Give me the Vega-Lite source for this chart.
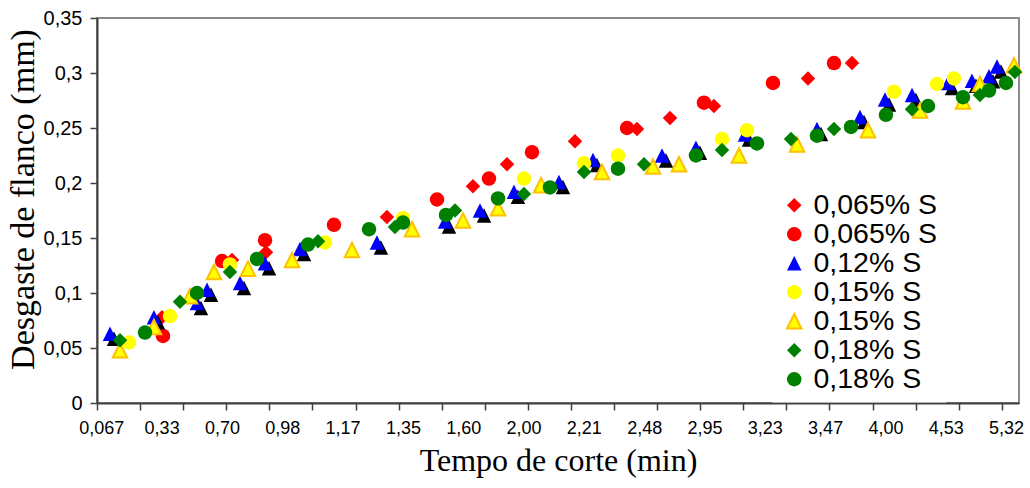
{
  "$schema": "https://vega.github.io/schema/vega-lite/v6.json",
  "width": 922,
  "height": 385,
  "autosize": {"type": "none"},
  "padding": {"left": 97, "top": 18, "right": 11, "bottom": 85},
  "background": "white",
  "config": {
    "view": {"stroke": "#8c8c8c", "strokeWidth": 2},
    "font": "Liberation Sans"
  },
  "data": {
    "values": [
      {"serie": "0,065% S (1)", "pos": 7.54, "desgaste": 0.078},
      {"serie": "0,065% S (1)", "pos": 15.67, "desgaste": 0.130},
      {"serie": "0,065% S (1)", "pos": 19.61, "desgaste": 0.137},
      {"serie": "0,065% S (1)", "pos": 33.65, "desgaste": 0.169},
      {"serie": "0,065% S (1)", "pos": 43.63, "desgaste": 0.197},
      {"serie": "0,065% S (1)", "pos": 47.58, "desgaste": 0.217},
      {"serie": "0,065% S (1)", "pos": 55.47, "desgaste": 0.238},
      {"serie": "0,065% S (1)", "pos": 62.67, "desgaste": 0.249},
      {"serie": "0,065% S (1)", "pos": 66.50, "desgaste": 0.259},
      {"serie": "0,065% S (1)", "pos": 71.60, "desgaste": 0.270},
      {"serie": "0,065% S (1)", "pos": 82.51, "desgaste": 0.295},
      {"serie": "0,065% S (1)", "pos": 87.62, "desgaste": 0.309},
      {"serie": "0,065% S (2)", "pos": 7.66, "desgaste": 0.061},
      {"serie": "0,065% S (2)", "pos": 14.51, "desgaste": 0.129},
      {"serie": "0,065% S (2)", "pos": 19.50, "desgaste": 0.148},
      {"serie": "0,065% S (2)", "pos": 27.50, "desgaste": 0.162},
      {"serie": "0,065% S (2)", "pos": 39.46, "desgaste": 0.185},
      {"serie": "0,065% S (2)", "pos": 45.49, "desgaste": 0.204},
      {"serie": "0,065% S (2)", "pos": 50.48, "desgaste": 0.228},
      {"serie": "0,065% S (2)", "pos": 61.51, "desgaste": 0.250},
      {"serie": "0,065% S (2)", "pos": 70.44, "desgaste": 0.273},
      {"serie": "0,065% S (2)", "pos": 78.45, "desgaste": 0.291},
      {"serie": "0,065% S (2)", "pos": 85.53, "desgaste": 0.309},
      {"serie": "0,12% S", "pos": 1.51, "desgaste": 0.063},
      {"serie": "0,12% S", "pos": 6.61, "desgaste": 0.078},
      {"serie": "0,12% S", "pos": 11.60, "desgaste": 0.091},
      {"serie": "0,12% S", "pos": 12.77, "desgaste": 0.103},
      {"serie": "0,12% S", "pos": 16.60, "desgaste": 0.109},
      {"serie": "0,12% S", "pos": 19.50, "desgaste": 0.127},
      {"serie": "0,12% S", "pos": 23.56, "desgaste": 0.140},
      {"serie": "0,12% S", "pos": 32.49, "desgaste": 0.146},
      {"serie": "0,12% S", "pos": 40.39, "desgaste": 0.165},
      {"serie": "0,12% S", "pos": 44.45, "desgaste": 0.175},
      {"serie": "0,12% S", "pos": 48.39, "desgaste": 0.192},
      {"serie": "0,12% S", "pos": 53.61, "desgaste": 0.201},
      {"serie": "0,12% S", "pos": 57.56, "desgaste": 0.221},
      {"serie": "0,12% S", "pos": 65.57, "desgaste": 0.225},
      {"serie": "0,12% S", "pos": 69.51, "desgaste": 0.232},
      {"serie": "0,12% S", "pos": 75.20, "desgaste": 0.244},
      {"serie": "0,12% S", "pos": 83.56, "desgaste": 0.249},
      {"serie": "0,12% S", "pos": 88.55, "desgaste": 0.260},
      {"serie": "0,12% S", "pos": 91.45, "desgaste": 0.276},
      {"serie": "0,12% S", "pos": 94.58, "desgaste": 0.280},
      {"serie": "0,12% S", "pos": 98.76, "desgaste": 0.291},
      {"serie": "0,12% S", "pos": 101.54, "desgaste": 0.293},
      {"serie": "0,12% S", "pos": 103.52, "desgaste": 0.297},
      {"serie": "0,12% S", "pos": 104.45, "desgaste": 0.306},
      {"serie": "0,15% S (1)", "pos": 3.71, "desgaste": 0.055},
      {"serie": "0,15% S (1)", "pos": 8.47, "desgaste": 0.079},
      {"serie": "0,15% S (1)", "pos": 15.43, "desgaste": 0.126},
      {"serie": "0,15% S (1)", "pos": 26.46, "desgaste": 0.146},
      {"serie": "0,15% S (1)", "pos": 35.51, "desgaste": 0.168},
      {"serie": "0,15% S (1)", "pos": 49.55, "desgaste": 0.204},
      {"serie": "0,15% S (1)", "pos": 56.52, "desgaste": 0.218},
      {"serie": "0,15% S (1)", "pos": 60.46, "desgaste": 0.225},
      {"serie": "0,15% S (1)", "pos": 72.53, "desgaste": 0.240},
      {"serie": "0,15% S (1)", "pos": 75.43, "desgaste": 0.248},
      {"serie": "0,15% S (1)", "pos": 92.49, "desgaste": 0.283},
      {"serie": "0,15% S (1)", "pos": 97.48, "desgaste": 0.290},
      {"serie": "0,15% S (1)", "pos": 99.45, "desgaste": 0.295},
      {"serie": "0,15% S (2)", "pos": 2.67, "desgaste": 0.048},
      {"serie": "0,15% S (2)", "pos": 6.61, "desgaste": 0.069},
      {"serie": "0,15% S (2)", "pos": 10.79, "desgaste": 0.097},
      {"serie": "0,15% S (2)", "pos": 13.58, "desgaste": 0.119},
      {"serie": "0,15% S (2)", "pos": 17.52, "desgaste": 0.122},
      {"serie": "0,15% S (2)", "pos": 22.63, "desgaste": 0.130},
      {"serie": "0,15% S (2)", "pos": 29.59, "desgaste": 0.139},
      {"serie": "0,15% S (2)", "pos": 36.56, "desgaste": 0.158},
      {"serie": "0,15% S (2)", "pos": 42.47, "desgaste": 0.166},
      {"serie": "0,15% S (2)", "pos": 46.54, "desgaste": 0.177},
      {"serie": "0,15% S (2)", "pos": 51.53, "desgaste": 0.198},
      {"serie": "0,15% S (2)", "pos": 58.61, "desgaste": 0.210},
      {"serie": "0,15% S (2)", "pos": 64.52, "desgaste": 0.215},
      {"serie": "0,15% S (2)", "pos": 67.54, "desgaste": 0.217},
      {"serie": "0,15% S (2)", "pos": 74.50, "desgaste": 0.225},
      {"serie": "0,15% S (2)", "pos": 81.24, "desgaste": 0.235},
      {"serie": "0,15% S (2)", "pos": 89.47, "desgaste": 0.248},
      {"serie": "0,15% S (2)", "pos": 95.51, "desgaste": 0.266},
      {"serie": "0,15% S (2)", "pos": 100.50, "desgaste": 0.274},
      {"serie": "0,15% S (2)", "pos": 102.47, "desgaste": 0.290},
      {"serie": "0,15% S (2)", "pos": 106.42, "desgaste": 0.307},
      {"serie": "0,18% S (1)", "pos": 2.67, "desgaste": 0.057},
      {"serie": "0,18% S (1)", "pos": 9.63, "desgaste": 0.092},
      {"serie": "0,18% S (1)", "pos": 15.43, "desgaste": 0.119},
      {"serie": "0,18% S (1)", "pos": 25.65, "desgaste": 0.147},
      {"serie": "0,18% S (1)", "pos": 34.58, "desgaste": 0.160},
      {"serie": "0,18% S (1)", "pos": 41.55, "desgaste": 0.175},
      {"serie": "0,18% S (1)", "pos": 49.55, "desgaste": 0.190},
      {"serie": "0,18% S (1)", "pos": 56.52, "desgaste": 0.210},
      {"serie": "0,18% S (1)", "pos": 63.48, "desgaste": 0.217},
      {"serie": "0,18% S (1)", "pos": 72.53, "desgaste": 0.230},
      {"serie": "0,18% S (1)", "pos": 80.54, "desgaste": 0.240},
      {"serie": "0,18% S (1)", "pos": 85.53, "desgaste": 0.249},
      {"serie": "0,18% S (1)", "pos": 94.58, "desgaste": 0.267},
      {"serie": "0,18% S (1)", "pos": 102.47, "desgaste": 0.280},
      {"serie": "0,18% S (1)", "pos": 106.53, "desgaste": 0.301},
      {"serie": "0,18% S (2)", "pos": 5.57, "desgaste": 0.064},
      {"serie": "0,18% S (2)", "pos": 11.60, "desgaste": 0.100},
      {"serie": "0,18% S (2)", "pos": 18.57, "desgaste": 0.131},
      {"serie": "0,18% S (2)", "pos": 24.49, "desgaste": 0.144},
      {"serie": "0,18% S (2)", "pos": 31.57, "desgaste": 0.158},
      {"serie": "0,18% S (2)", "pos": 35.51, "desgaste": 0.164},
      {"serie": "0,18% S (2)", "pos": 40.50, "desgaste": 0.171},
      {"serie": "0,18% S (2)", "pos": 46.54, "desgaste": 0.186},
      {"serie": "0,18% S (2)", "pos": 52.57, "desgaste": 0.196},
      {"serie": "0,18% S (2)", "pos": 60.46, "desgaste": 0.213},
      {"serie": "0,18% S (2)", "pos": 69.51, "desgaste": 0.225},
      {"serie": "0,18% S (2)", "pos": 76.59, "desgaste": 0.236},
      {"serie": "0,18% S (2)", "pos": 83.56, "desgaste": 0.243},
      {"serie": "0,18% S (2)", "pos": 87.50, "desgaste": 0.251},
      {"serie": "0,18% S (2)", "pos": 91.56, "desgaste": 0.262},
      {"serie": "0,18% S (2)", "pos": 96.44, "desgaste": 0.270},
      {"serie": "0,18% S (2)", "pos": 100.50, "desgaste": 0.278},
      {"serie": "0,18% S (2)", "pos": 103.52, "desgaste": 0.284},
      {"serie": "0,18% S (2)", "pos": 105.49, "desgaste": 0.291}
    ]
  },
  "encoding": {
    "x": {
      "field": "pos",
      "type": "quantitative",
      "scale": {"domain": [0, 107], "nice": false, "zero": false},
      "axis": {
        "title": "Tempo de corte (min)",
        "titleFont": "Liberation Serif",
        "titleFontSize": 32,
        "titleFontWeight": "normal",
        "titleColor": "black",
        "titlePadding": 8,
        "values": [0, 0.5, 5, 7.5, 10, 14.5, 15, 20, 21.5, 25, 28.5, 30, 35, 35.5, 40, 42.5, 45, 49.5, 50, 55, 56.5, 60, 63.5, 65, 70, 70.5, 75, 77.5, 80, 84.5, 85, 90, 91.5, 95, 98.5, 100, 105, 105.5],
        "labelExpr": "datum.value % 5 === 0 ? '' : ['0,067','0,33','0,70','0,98','1,17','1,35','1,60','2,00','2,21','2,48','2,95','3,23','3,47','4,00','4,53','5,32'][round((datum.value - 0.5) / 7)]",
        "tickOpacity": {"condition": {"test": "datum.value % 5 === 0", "value": 1}, "value": 0},
        "labelOverlap": false,
        "labelFlush": false,
        "labelFont": "Liberation Sans",
        "labelFontSize": 18,
        "labelColor": "black",
        "labelPadding": 9,
        "tickSize": 7,
        "tickColor": "#404040",
        "tickWidth": 1.5,
        "domainColor": "#404040",
        "domainWidth": 2,
        "grid": false
      }
    },
    "y": {
      "field": "desgaste",
      "type": "quantitative",
      "scale": {"domain": [0, 0.35], "nice": false, "zero": true},
      "axis": {
        "title": "Desgaste de flanco (mm)",
        "titleFont": "Liberation Serif",
        "titleFontSize": 34,
        "titleFontWeight": "normal",
        "titleColor": "black",
        "titlePadding": 3,
        "titleY": 181,
        "values": [0, 0.05, 0.1, 0.15, 0.2, 0.25, 0.3, 0.35],
        "format": "~g",
        "labelExpr": "replace(datum.label, '.', ',')",
        "labelFont": "Liberation Sans",
        "labelFontSize": 20,
        "labelColor": "black",
        "labelPadding": 8,
        "tickSize": 7,
        "tickColor": "#404040",
        "tickWidth": 1.5,
        "domainColor": "#404040",
        "domainWidth": 2,
        "grid": false
      }
    },
    "shape": {
      "field": "serie",
      "type": "nominal",
      "scale": {
        "domain": ["0,065% S (1)", "0,065% S (2)", "0,12% S", "0,15% S (1)", "0,15% S (2)", "0,18% S (1)", "0,18% S (2)"],
        "range": ["diamond", "circle", "M0,-1L1,1L-1,1Z", "circle", "M0,-1L1,1L-1,1Z", "diamond", "circle"]
      },
      "legend": {
        "orient": "none",
        "legendX": 675,
        "legendY": 165,
        "title": null,
        "labelFont": "Liberation Sans",
        "labelFontSize": 28.5,
        "labelColor": "black",
        "labelLimit": 400,
        "labelOffset": 5,
        "labelExpr": "split(datum.label, ' (')[0]",
        "symbolSize": 210,
        "symbolStrokeWidth": 2,
        "symbolOpacity": 1,
        "rowPadding": 0,
        "padding": 8,
        "fillColor": "white",
        "strokeColor": "transparent"
      }
    },
    "fill": {
      "field": "serie",
      "type": "nominal",
      "scale": {
        "domain": ["0,065% S (1)", "0,065% S (2)", "0,12% S", "0,15% S (1)", "0,15% S (2)", "0,18% S (1)", "0,18% S (2)"],
        "range": ["#FF0000", "#FF0000", "#0000FF", "#FFFF00", "#FFFF00", "#008000", "#008000"]
      }
    },
    "stroke": {
      "field": "serie",
      "type": "nominal",
      "scale": {
        "domain": ["0,065% S (1)", "0,065% S (2)", "0,12% S", "0,15% S (1)", "0,15% S (2)", "0,18% S (1)", "0,18% S (2)"],
        "range": ["transparent", "transparent", "transparent", "transparent", "#FFC000", "transparent", "transparent"]
      }
    }
  },
  "layer": [
    {
      "transform": [{"filter": {"field": "serie", "oneOf": ["0,065% S (1)", "0,065% S (2)"]}}],
      "mark": {"type": "point", "filled": true, "opacity": 1, "size": 210, "strokeWidth": 2}
    },
    {
      "transform": [{"filter": {"field": "serie", "equal": "0,12% S"}}],
      "mark": {"type": "point", "filled": true, "opacity": 1, "size": 210, "strokeWidth": 0},
      "encoding": {
        "shape": {"value": "M0.55,-0.31L1.55,1.69L-0.45,1.69Z"},
        "fill": {"value": "black"},
        "stroke": {"value": "transparent"}
      }
    },
    {
      "transform": [{"filter": {"field": "serie", "oneOf": ["0,12% S", "0,15% S (1)", "0,15% S (2)", "0,18% S (1)", "0,18% S (2)"]}}],
      "mark": {"type": "point", "filled": true, "opacity": 1, "size": 210, "strokeWidth": 2}
    }
  ]
}
